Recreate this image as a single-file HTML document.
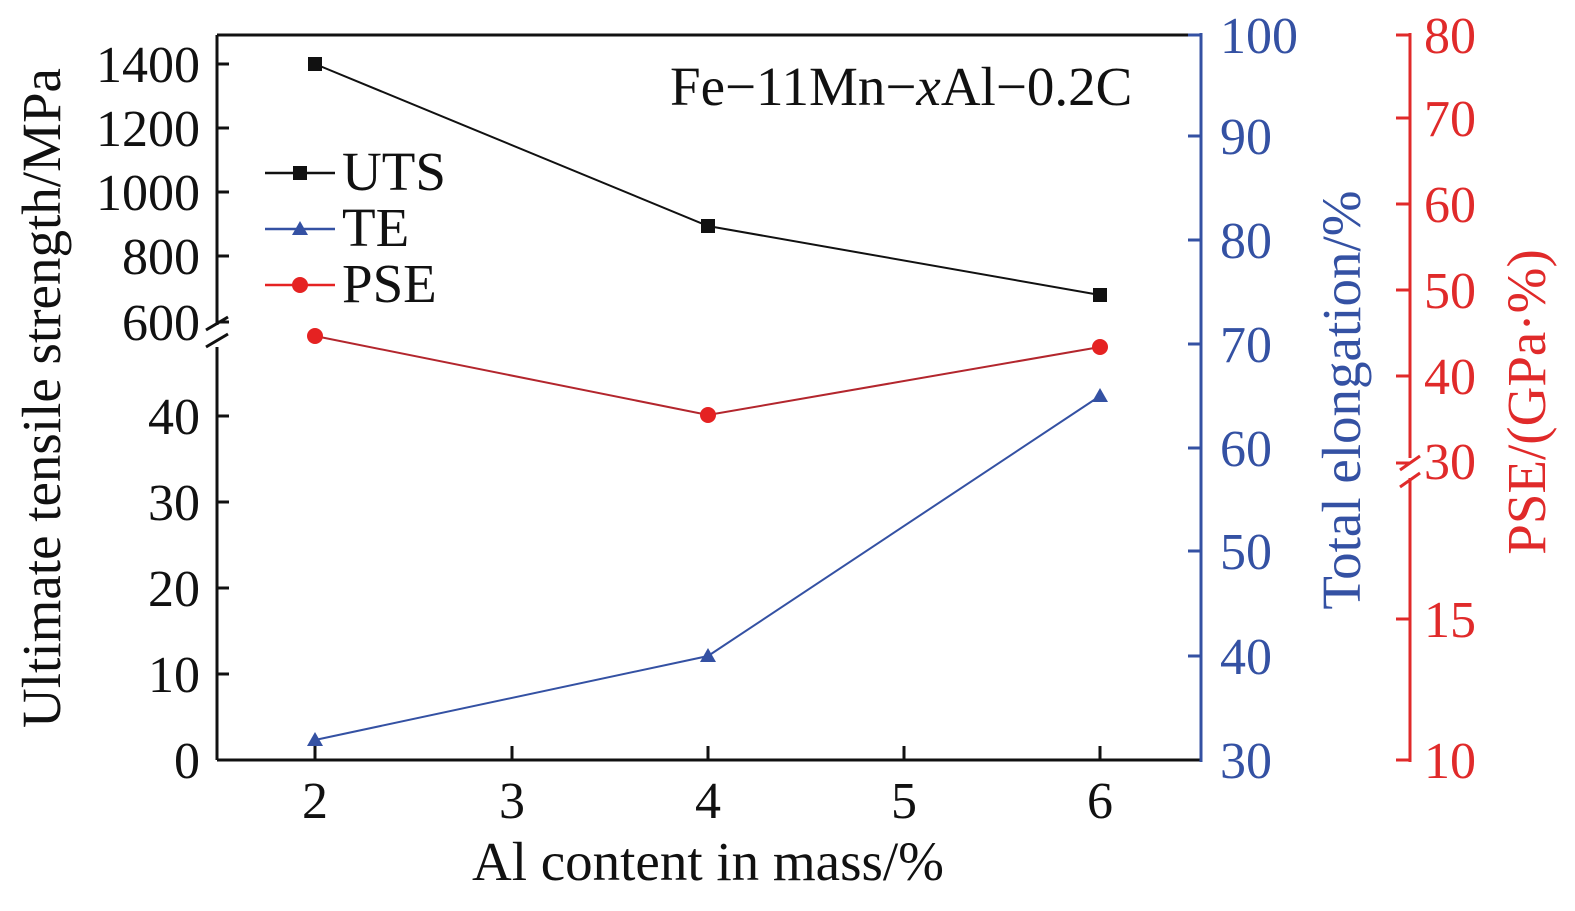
<!DOCTYPE html>
<html><head><style>body{margin:0;background:#fff}</style></head><body>
<svg width="1575" height="906" viewBox="0 0 1575 906" xmlns="http://www.w3.org/2000/svg" font-family="Liberation Serif, serif">
<rect width="1575" height="906" fill="#fff"/>
<g stroke="#111" stroke-width="3" fill="none">
<line x1="217" y1="35" x2="1200" y2="35"/>
<line x1="217" y1="760" x2="1200" y2="760"/>
<line x1="217" y1="35" x2="217" y2="325"/>
<line x1="217" y1="347" x2="217" y2="760"/>
<line x1="206" y1="330" x2="228" y2="317"/>
<line x1="206" y1="347" x2="228" y2="334"/>
<line x1="217" y1="674" x2="229" y2="674"/><line x1="217" y1="588" x2="229" y2="588"/>
<line x1="217" y1="502" x2="229" y2="502"/><line x1="217" y1="416" x2="229" y2="416"/>
<line x1="217" y1="256" x2="229" y2="256"/><line x1="217" y1="192" x2="229" y2="192"/>
<line x1="217" y1="128" x2="229" y2="128"/><line x1="217" y1="64" x2="229" y2="64"/>
<line x1="217" y1="322" x2="229" y2="322"/>
<line x1="315" y1="760" x2="315" y2="746"/><line x1="512" y1="760" x2="512" y2="746"/>
<line x1="708" y1="760" x2="708" y2="746"/><line x1="904" y1="760" x2="904" y2="746"/>
<line x1="1100" y1="760" x2="1100" y2="746"/>
</g>
<g font-size="52" fill="#111" text-anchor="end">
<text x="200" y="778">0</text><text x="200" y="692">10</text><text x="200" y="606">20</text>
<text x="200" y="520">30</text><text x="200" y="434">40</text><text x="200" y="340">600</text>
<text x="200" y="274">800</text><text x="200" y="210">1000</text><text x="200" y="146">1200</text>
<text x="200" y="82">1400</text>
</g>
<g font-size="52" fill="#111" text-anchor="middle">
<text x="315" y="818">2</text><text x="512" y="818">3</text><text x="708" y="818">4</text>
<text x="904" y="818">5</text><text x="1100" y="818">6</text>
</g>
<text x="708" y="880" font-size="55" fill="#111" text-anchor="middle">Al content in mass/%</text>
<text transform="translate(60,398) rotate(-90)" font-size="55" fill="#111" text-anchor="middle">Ultimate tensile strength/MPa</text>
<text x="670" y="105" font-size="55" fill="#111">Fe−11Mn−<tspan font-style="italic">x</tspan>Al−0.2C</text>
<g stroke="#3451a3" stroke-width="3">
<line x1="1201" y1="33" x2="1201" y2="762"/>
<line x1="1188" y1="656" x2="1201" y2="656"/><line x1="1188" y1="551" x2="1201" y2="551"/>
<line x1="1188" y1="448" x2="1201" y2="448"/><line x1="1188" y1="344" x2="1201" y2="344"/>
<line x1="1188" y1="240" x2="1201" y2="240"/><line x1="1188" y1="136" x2="1201" y2="136"/>
<line x1="1188" y1="35" x2="1201" y2="35"/>
</g>
<g font-size="52" fill="#3451a3">
<text x="1220" y="778">30</text><text x="1220" y="674">40</text><text x="1220" y="569">50</text>
<text x="1220" y="466">60</text><text x="1220" y="362">70</text><text x="1220" y="258">80</text>
<text x="1220" y="154">90</text><text x="1220" y="53">100</text>
</g>
<text transform="translate(1360,400) rotate(-90)" font-size="55" fill="#3451a3" text-anchor="middle">Total elongation/%</text>
<g stroke="#e02a2a" stroke-width="3">
<line x1="1410" y1="33" x2="1410" y2="458"/>
<line x1="1410" y1="478" x2="1410" y2="762"/>
<line x1="1400" y1="470" x2="1420" y2="456"/><line x1="1400" y1="487" x2="1420" y2="473"/>
<line x1="1396" y1="760" x2="1410" y2="760"/><line x1="1396" y1="619" x2="1410" y2="619"/>
<line x1="1396" y1="463" x2="1410" y2="463"/><line x1="1396" y1="376" x2="1410" y2="376"/>
<line x1="1396" y1="290" x2="1410" y2="290"/><line x1="1396" y1="204" x2="1410" y2="204"/>
<line x1="1396" y1="118" x2="1410" y2="118"/><line x1="1396" y1="35" x2="1410" y2="35"/>
</g>
<g font-size="52" fill="#e02a2a">
<text x="1424" y="778">10</text><text x="1424" y="637">15</text><text x="1424" y="479">30</text>
<text x="1424" y="394">40</text><text x="1424" y="308">50</text><text x="1424" y="222">60</text>
<text x="1424" y="136">70</text><text x="1424" y="53">80</text>
</g>
<text transform="translate(1545,402) rotate(-90)" font-size="55" fill="#e02a2a" text-anchor="middle">PSE/(GPa·%)</text>
<polyline points="315,64 708,226 1100,295" fill="none" stroke="#111" stroke-width="2"/>
<g fill="#111"><rect x="308" y="57" width="14" height="14"/><rect x="701" y="219" width="14" height="14"/><rect x="1093" y="288" width="14" height="14"/></g>
<polyline points="315,740 708,656 1100,396" fill="none" stroke="#3451a3" stroke-width="2"/>
<g fill="#3451a3"><polygon points="315,732 323,746 307,746"/><polygon points="708,648 716,662 700,662"/><polygon points="1100,388 1108,402 1092,402"/></g>
<polyline points="315,336 708,415 1100,347" fill="none" stroke="#b3262d" stroke-width="2"/>
<g fill="#e52222"><circle cx="315" cy="336" r="8"/><circle cx="708" cy="415" r="8"/><circle cx="1100" cy="347" r="8"/></g>
<line x1="265" y1="173" x2="335" y2="173" stroke="#111" stroke-width="2.5"/><rect x="293" y="166" width="14" height="14" fill="#111"/>
<line x1="265" y1="229" x2="335" y2="229" stroke="#3451a3" stroke-width="2.5"/><polygon points="300,221 308,235 292,235" fill="#3451a3"/>
<line x1="265" y1="285" x2="335" y2="285" stroke="#e52222" stroke-width="2.5"/><circle cx="300" cy="285" r="8" fill="#e52222"/>
<g font-size="55" fill="#111"><text x="342" y="190">UTS</text><text x="342" y="246">TE</text><text x="342" y="302">PSE</text></g>
</svg>
</body></html>
